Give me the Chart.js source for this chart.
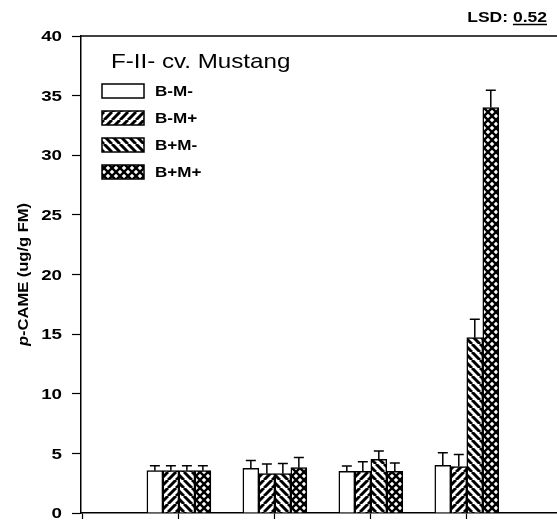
<!DOCTYPE html>
<html>
<head>
<meta charset="utf-8">
<script src="https://cdn.jsdelivr.net/npm/chart.js@4"></script>
<style>
  html, body { margin: 0; padding: 0; background: #fff; }
  canvas { display: block; }
</style>
</head>
<body>
<canvas id="cameChart" width="557" height="522"></canvas>
<script>
// treatment groups sit at x = 1..4, no labels under them
const groups = [1, 2, 3, 4];
const seriesNames = ["B-M-", "B-M+", "B+M-", "B+M+"];

// p-CAME (ug/g FM) means and upper error (SE) per group
const bmMinusMinus = [3.55, 3.75, 3.5, 4.0];
const bmMinusPlus = [3.55, 3.3, 3.5, 3.9];
const bmPlusMinus = [3.55, 3.3, 4.5, 14.7];
const bmPlusPlus = [3.55, 3.8, 3.5, 34.0];

const errMinusMinus = [0.42, 0.65, 0.45, 1.05];
const errMinusPlus = [0.42, 0.8, 0.8, 1.0];
const errPlusMinus = [0.42, 0.85, 0.7, 1.55];
const errPlusPlus = [0.42, 0.85, 0.7, 1.45];

const yTicks = [0, 5, 10, 15, 20, 25, 30, 35, 40];
const title = "F-II- cv. Mustang";
const lsdValue = "0.52";

const FONT = '"Liberation Sans", Arial, Helvetica, sans-serif';

// hatch fills, 8px tiles
function makePattern(kind) {
  const c = document.createElement("canvas");
  c.width = 8;
  c.height = 8;
  const g = c.getContext("2d");
  g.fillStyle = "#fff";
  g.fillRect(0, 0, 8, 8);
  g.strokeStyle = "#000";
  g.fillStyle = "#000";
  if (kind === "fwd" || kind === "back") {
    g.lineWidth = 3;
    g.beginPath();
    for (let k = -8; k <= 8; k += 8) {
      if (kind === "fwd") {
        g.moveTo(k, 8);
        g.lineTo(k + 8, 0);
      } else {
        g.moveTo(k, 0);
        g.lineTo(k + 8, 8);
      }
    }
    g.stroke();
  } else if (kind === "cross") {
    g.fillRect(0, 0, 8, 8);
    g.fillStyle = "#fff";
    const holes = [[4, 0], [0, 4], [8, 4], [4, 8]];
    holes.forEach(([cx, cy]) => {
      g.beginPath();
      g.moveTo(cx, cy - 2.3);
      g.lineTo(cx + 2.3, cy);
      g.lineTo(cx, cy + 2.3);
      g.lineTo(cx - 2.3, cy);
      g.closePath();
      g.fill();
    });
  }
  return g.createPattern(c, "repeat");
}

const fills = ["#fff", makePattern("fwd"), makePattern("back"), makePattern("cross")];

function points(values) {
  return groups.map((x, i) => ({ x: x, y: values[i] }));
}

// text drawn a bit wider than the font's natural width
function wideText(ctx, text, x, y, font, sx, align) {
  ctx.save();
  ctx.font = font;
  ctx.textAlign = align || "left";
  ctx.translate(x, y);
  ctx.scale(sx, 1);
  ctx.fillText(text, 0, 0);
  ctx.restore();
}

const errorBars = {
  id: "errorBars",
  afterDatasetsDraw(chart) {
    const ctx = chart.ctx;
    const yScale = chart.scales.y;
    ctx.save();
    ctx.strokeStyle = "#000";
    ctx.lineWidth = 1.5;
    chart.data.datasets.forEach((ds, i) => {
      chart.getDatasetMeta(i).data.forEach((bar, j) => {
        const top = yScale.getPixelForValue(ds.data[j].y + ds.errors[j]);
        ctx.beginPath();
        ctx.moveTo(bar.x, bar.y);
        ctx.lineTo(bar.x, top);
        ctx.moveTo(bar.x - 5, top);
        ctx.lineTo(bar.x + 5, top);
        ctx.stroke();
      });
    });
    ctx.restore();
  },
};

const decorations = {
  id: "decorations",
  afterDraw(chart) {
    const ctx = chart.ctx;
    const area = chart.chartArea;
    const yScale = chart.scales.y;
    ctx.save();
    ctx.fillStyle = "#000";
    ctx.strokeStyle = "#000";

    // top frame line
    ctx.lineWidth = 1.5;
    ctx.beginPath();
    ctx.moveTo(area.left, area.top);
    ctx.lineTo(area.right, area.top);
    ctx.stroke();

    // y tick labels
    ctx.textBaseline = "middle";
    yScale.ticks.forEach((t) => {
      wideText(ctx, String(t.value), 62, yScale.getPixelForValue(t.value) + 1,
        "bold 15px " + FONT, 1.25, "right");
    });

    // y axis title with italic p
    const cy = (area.top + area.bottom) / 2;
    ctx.save();
    ctx.translate(24, cy);
    ctx.rotate(-Math.PI / 2);
    ctx.scale(1.18, 1);
    ctx.textBaseline = "middle";
    ctx.textAlign = "left";
    const pFont = "italic bold 14px " + FONT;
    const restFont = "bold 14px " + FONT;
    const rest = "-CAME (ug/g FM)";
    ctx.font = pFont;
    const pw = ctx.measureText("p").width;
    ctx.font = restFont;
    const rw = ctx.measureText(rest).width;
    const x0 = -(pw + rw) / 2;
    ctx.font = pFont;
    ctx.fillText("p", x0, 0);
    ctx.font = restFont;
    ctx.fillText(rest, x0 + pw, 0);
    ctx.restore();

    // panel title
    ctx.textBaseline = "alphabetic";
    wideText(ctx, title, 111, 68, "21px " + FONT, 1.15, "left");

    // legend
    chart.data.datasets.forEach((ds, i) => {
      const top = 84 + i * 27;
      ctx.fillStyle = ds.backgroundColor;
      ctx.fillRect(102, top, 42, 14);
      ctx.lineWidth = 1.5;
      ctx.strokeRect(102, top, 42, 14);
      ctx.fillStyle = "#000";
      ctx.textBaseline = "middle";
      wideText(ctx, ds.label, 155, top + 8, "bold 14px " + FONT, 1.22, "left");
    });

    // LSD note, value underlined
    ctx.textBaseline = "alphabetic";
    ctx.font = "bold 14px " + FONT;
    const sx = 1.25;
    const lw = ctx.measureText("LSD: ").width * sx;
    const vw = ctx.measureText(lsdValue).width * sx;
    const right = 547;
    wideText(ctx, "LSD: ", right - vw - lw, 22, ctx.font, sx, "left");
    wideText(ctx, lsdValue, right - vw, 22, "bold 14px " + FONT, sx, "left");
    ctx.lineWidth = 1.5;
    ctx.beginPath();
    ctx.moveTo(right - vw, 24.5);
    ctx.lineTo(right, 24.5);
    ctx.stroke();

    ctx.restore();
  },
};

const errorSets = [errMinusMinus, errMinusPlus, errPlusMinus, errPlusPlus];
const valueSets = [bmMinusMinus, bmMinusPlus, bmPlusMinus, bmPlusPlus];

const chart = new Chart(document.getElementById("cameChart"), {
  type: "bar",
  data: {
    datasets: valueSets.map((vals, i) => ({
      label: seriesNames[i],
      data: points(vals),
      errors: errorSets[i],
      backgroundColor: fills[i],
      borderColor: "#000",
      borderWidth: 1.5,
      barThickness: 16,
    })),
  },
  options: {
    responsive: false,
    animation: false,
    devicePixelRatio: 1,
    layout: { padding: { left: 0, right: 0, top: 36, bottom: 0 } },
    plugins: {
      legend: { display: false },
      tooltip: { enabled: false },
    },
    scales: {
      x: {
        type: "linear",
        min: -0.02,
        max: 4.94,
        offset: false,
        afterBuildTicks: (scale) => {
          scale.ticks = [0].concat(groups).map((v) => ({ value: v }));
        },
        afterFit: (scale) => {
          scale.height = 9;
        },
        ticks: { display: false },
        grid: {
          offset: false,
          drawOnChartArea: false,
          tickLength: 6,
          tickColor: "#000",
          tickWidth: 1.2,
        },
        border: { color: "#000", width: 1.5 },
      },
      y: {
        min: 0,
        max: 40,
        afterBuildTicks: (scale) => {
          scale.ticks = yTicks.map((v) => ({ value: v }));
        },
        afterFit: (scale) => {
          scale.width = 81;
        },
        ticks: { display: false },
        grid: {
          drawOnChartArea: false,
          tickLength: 9,
          tickColor: "#000",
          tickWidth: 1.2,
        },
        border: { color: "#000", width: 1.5 },
      },
    },
  },
  plugins: [errorBars, decorations],
});
</script>
</body>
</html>
